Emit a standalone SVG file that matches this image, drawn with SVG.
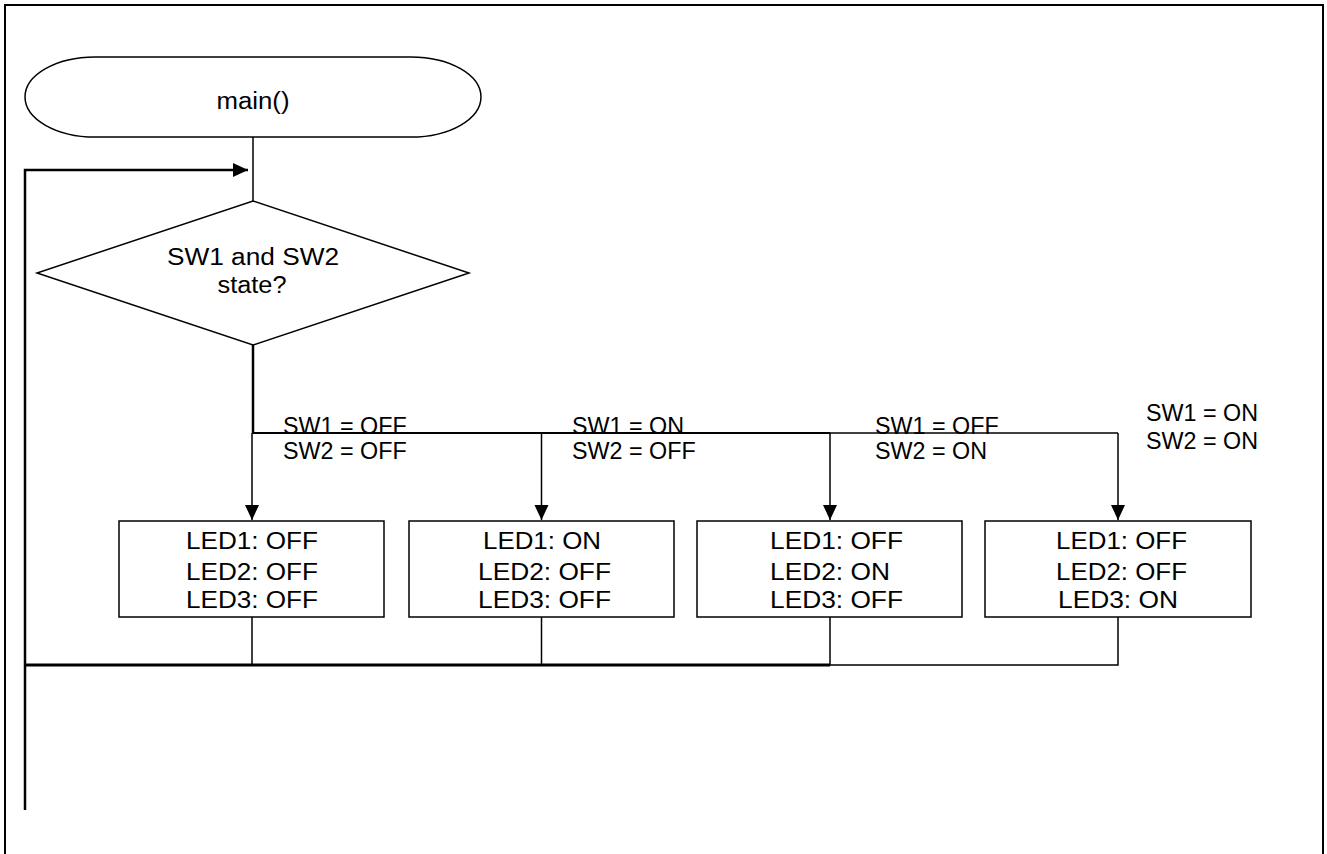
<svg xmlns="http://www.w3.org/2000/svg" width="1327" height="854" viewBox="0 0 1327 854">
<style>
text{font-family:"Liberation Sans",Arial,sans-serif;fill:#000}
.t{font-size:23px;text-anchor:middle}
.led{font-size:24px}
.lbl{font-size:23.3px}
.shape{fill:#fff;stroke:#000;stroke-width:1.5}
.thin{fill:none;stroke:#000;stroke-width:1.5}
.thick{fill:none;stroke:#000;stroke-width:2.5}
</style>
<defs>
<marker id="ah" markerUnits="userSpaceOnUse" markerWidth="16" markerHeight="16" refX="15" refY="7" orient="auto">
<path d="M0,0 L15,7 L0,14 Z" fill="#000"/>
</marker>
</defs>
<rect x="0" y="0" width="1327" height="854" fill="#fff"/>
<rect x="5" y="5" width="1318" height="900" fill="none" stroke="#000" stroke-width="2"/>

<g id="connectors">
<line class="thin" x1="253" y1="137" x2="253" y2="201"/>
<polyline class="thick" points="25,810 25,170 248,170" marker-end="url(#ah)"/>
<line class="thick" x1="253" y1="345" x2="253" y2="433"/>
<line fill="none" stroke="#000" stroke-width="2" x1="252" y1="433" x2="830" y2="433"/>
<line class="thin" x1="830" y1="433" x2="1118" y2="433"/>
<line class="thin" x1="252" y1="433" x2="252" y2="520" marker-end="url(#ah)"/>
<line class="thin" x1="541.5" y1="433" x2="541.5" y2="520" marker-end="url(#ah)"/>
<line class="thin" x1="830" y1="433" x2="830" y2="520" marker-end="url(#ah)"/>
<line class="thin" x1="1118" y1="433" x2="1118" y2="520" marker-end="url(#ah)"/>
<line class="thin" x1="252" y1="617" x2="252" y2="665"/>
<line class="thin" x1="541.5" y1="617" x2="541.5" y2="665"/>
<line class="thin" x1="830" y1="617" x2="830" y2="665"/>
<polyline class="thin" points="830,665 1118,665 1118,617"/>
<line fill="none" stroke="#000" stroke-width="3" x1="25" y1="665" x2="830" y2="665"/>
<text class="lbl" x="283" y="434">SW1 = OFF</text>
<text class="lbl" x="283" y="459">SW2 = OFF</text>
<text class="lbl" x="572" y="434">SW1 = ON</text>
<text class="lbl" x="572" y="459">SW2 = OFF</text>
<text class="lbl" x="875" y="434">SW1 = OFF</text>
<text class="lbl" x="875" y="459">SW2 = ON</text>
<text class="lbl" x="1146" y="421">SW1 = ON</text>
<text class="lbl" x="1146" y="449">SW2 = ON</text>
</g>

<g id="start">
<path class="shape" d="M95,57 H411 A70,40 0 0 1 411,137 H95 A70,40 0 0 1 95,57 Z" stroke-width="1"/>
<text class="t" x="253" y="109" textLength="73" lengthAdjust="spacingAndGlyphs">main()</text>
</g>

<g id="decision">
<polygon class="shape" points="253,201 469,273 253,345 37,273"/>
<text class="t" x="253" y="265" textLength="172" lengthAdjust="spacingAndGlyphs">SW1 and SW2</text>
<text class="t" x="252" y="293" textLength="69" lengthAdjust="spacingAndGlyphs">state?</text>
</g>

<g id="box1">
<rect class="shape" x="119" y="521" width="265" height="96"/>
<text class="led" x="186" y="549" textLength="132" lengthAdjust="spacingAndGlyphs">LED1: OFF</text>
<text class="led" x="186" y="580" textLength="132" lengthAdjust="spacingAndGlyphs">LED2: OFF</text>
<text class="led" x="186" y="608" textLength="132" lengthAdjust="spacingAndGlyphs">LED3: OFF</text>
</g>

<g id="box2">
<rect class="shape" x="409" y="521" width="265" height="96"/>
<text class="led" x="483" y="549" textLength="118" lengthAdjust="spacingAndGlyphs">LED1: ON</text>
<text class="led" x="478" y="580" textLength="133" lengthAdjust="spacingAndGlyphs">LED2: OFF</text>
<text class="led" x="478" y="608" textLength="133" lengthAdjust="spacingAndGlyphs">LED3: OFF</text>
</g>

<g id="box3">
<rect class="shape" x="697" y="521" width="265" height="96"/>
<text class="led" x="770" y="549" textLength="133" lengthAdjust="spacingAndGlyphs">LED1: OFF</text>
<text class="led" x="770" y="580" textLength="120" lengthAdjust="spacingAndGlyphs">LED2: ON</text>
<text class="led" x="770" y="608" textLength="133" lengthAdjust="spacingAndGlyphs">LED3: OFF</text>
</g>

<g id="box4">
<rect class="shape" x="985" y="521" width="266" height="96"/>
<text class="led" x="1056" y="549" textLength="131" lengthAdjust="spacingAndGlyphs">LED1: OFF</text>
<text class="led" x="1056" y="580" textLength="131" lengthAdjust="spacingAndGlyphs">LED2: OFF</text>
<text class="led" x="1058" y="608" textLength="120" lengthAdjust="spacingAndGlyphs">LED3: ON</text>
</g>
</svg>
